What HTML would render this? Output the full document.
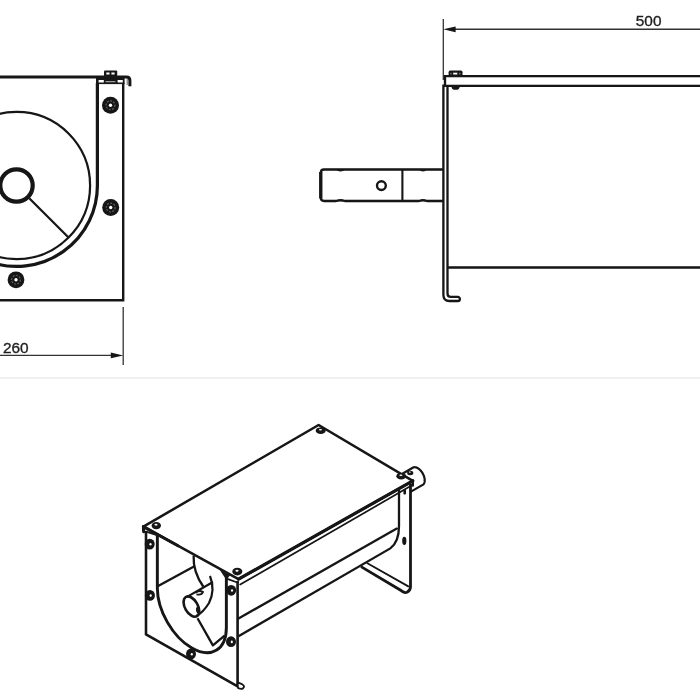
<!DOCTYPE html>
<html><head><meta charset="utf-8"><style>
html,body{margin:0;padding:0;background:#fff;}
svg{display:block;}
</style></head><body>
<svg width="700" height="700" viewBox="0 0 700 700">
<defs><filter id="bl" x="-5%" y="-5%" width="110%" height="110%"><feGaussianBlur stdDeviation="0.45"/></filter></defs>
<rect width="700" height="700" fill="#fff"/>
<g filter="url(#bl)">
<line x1="0" y1="378" x2="700" y2="378" stroke="#f0f0f0" stroke-width="2"/>
<path d="M-5,76.9 H126.5 Q129.9,76.9 129.9,80.5 V86.2" fill="none" stroke="#141414" stroke-width="3"/>
<line x1="127.2" y1="79" x2="127.2" y2="85" stroke="#666" stroke-width="1"/>
<rect x="104" y="70.4" width="13.2" height="6.2" rx="1" fill="#141414"/>
<rect x="106.3" y="72.5" width="3.2" height="2" fill="#fff"/>
<rect x="111.4" y="72.5" width="3.2" height="2" fill="#fff"/>
<rect x="96" y="77" width="28.6" height="7.1" fill="#141414"/>
<rect x="98.6" y="80" width="5.2" height="2.5" fill="#fff"/>
<rect x="117.6" y="80" width="5.2" height="2.5" fill="#fff"/>
<rect x="105.5" y="81" width="10" height="1.3" fill="#999"/>
<path d="M97.4,83 V185.5 A80.9,80.9 0 0 1 -10,261.94" fill="none" stroke="#141414" stroke-width="3.2"/>
<path d="M123.2,83 V300.2 H-5" fill="none" stroke="#141414" stroke-width="2.4"/>
<circle cx="16.5" cy="185.5" r="73.6" fill="none" stroke="#141414" stroke-width="2.2"/>
<circle cx="16.5" cy="185.5" r="16.2" fill="none" stroke="#141414" stroke-width="4.2"/>
<line x1="29.23" y1="198.23" x2="68.54" y2="237.54" stroke="#141414" stroke-width="2.2"/>
<circle cx="110.5" cy="105.2" r="8.5" fill="#141414"/><circle cx="110.5" cy="105.2" r="4.42" fill="none" stroke="#5a5a5a" stroke-width="1.3" stroke-dasharray="2 1.3"/><circle cx="110.5" cy="105.2" r="1.7" fill="#fff"/>
<circle cx="110.7" cy="207.5" r="8.5" fill="#141414"/><circle cx="110.7" cy="207.5" r="4.42" fill="none" stroke="#5a5a5a" stroke-width="1.3" stroke-dasharray="2 1.3"/><circle cx="110.7" cy="207.5" r="1.7" fill="#fff"/>
<circle cx="16" cy="279.8" r="8.4" fill="#141414"/><circle cx="16" cy="279.8" r="4.37" fill="none" stroke="#5a5a5a" stroke-width="1.3" stroke-dasharray="2 1.3"/><circle cx="16" cy="279.8" r="1.7" fill="#fff"/>
<line x1="123.2" y1="307" x2="123.2" y2="365" stroke="#333" stroke-width="1.3"/>
<line x1="-5" y1="355.4" x2="112" y2="355.4" stroke="#333" stroke-width="1.4"/>
<polygon points="110.8,352.5 123.2,355.4 110.8,358.3" fill="#141414"/>
<text x="2.9" y="352.9" font-family="Liberation Sans, sans-serif" font-size="15.4" fill="#1e1e1e" stroke="#1e1e1e" stroke-width="0.35">260</text>
<line x1="443.3" y1="19" x2="443.3" y2="80" stroke="#333" stroke-width="1.3"/>
<line x1="454" y1="29.3" x2="705" y2="29.3" stroke="#333" stroke-width="1.4"/>
<polygon points="443.3,29.3 455.6,26.4 455.6,32.2" fill="#141414"/>
<text x="635.8" y="26.4" font-family="Liberation Sans, sans-serif" font-size="15.4" fill="#1e1e1e" stroke="#1e1e1e" stroke-width="0.35">500</text>
<path d="M705,76.2 H445 V85.9 H705" fill="none" stroke="#141414" stroke-width="2.3"/>
<rect x="448.6" y="70.6" width="13.9" height="6" rx="1.6" fill="#141414"/>
<rect x="453.2" y="72.7" width="4.1" height="1.8" fill="#fff"/>
<rect x="450.3" y="72.8" width="1.4" height="1.6" fill="#777"/>
<rect x="459" y="72.8" width="1.5" height="1.6" fill="#777"/>
<path d="M451.4,85.9 Q451.4,89.8 455.6,89.8 Q459.8,89.8 459.8,85.9 Z" fill="#141414"/>
<path d="M443.4,84.5 V295 Q443.4,301 449.4,301 H457.8 A2.05,2.05 0 0 0 457.8,296.9 H451 Q447.5,296.9 447.5,293.4 V86" fill="none" stroke="#141414" stroke-width="2.3"/>
<line x1="447.5" y1="267.5" x2="705" y2="267.5" stroke="#141414" stroke-width="2.5"/>
<path d="M443,169.5 H336 Q340.5,171 345,169.5 H419 Q423,171 427,169.5 H443 M443,201 H427 Q423,199.5 419,201 H345 Q340.5,199.5 336,201 H324 Q320.8,201 320.8,197.8 V172.7 Q320.8,169.5 324,169.5 H336" fill="none" stroke="#141414" stroke-width="2.3"/>
<line x1="320.8" y1="172" x2="320.8" y2="198.5" stroke="#141414" stroke-width="3.3"/>
<line x1="402.4" y1="169.5" x2="402.4" y2="201" stroke="#141414" stroke-width="2.1"/>
<circle cx="381.4" cy="185.6" r="4.4" fill="none" stroke="#141414" stroke-width="2.4"/>
<path d="M393.72,478.69 L412.77,467.69 L412.74,467.71 L413.19,467.48 L413.68,467.33 L414.2,467.24 L414.74,467.22 L415.3,467.27 L415.89,467.39 L416.48,467.58 L417.09,467.83 L417.7,468.15 L418.31,468.53 L418.92,468.97 L419.51,469.46 L420.1,470.01 L420.66,470.61 L421.2,471.24 L421.72,471.92 L422.21,472.63 L422.66,473.37 L423.07,474.13 L423.44,474.9 L423.77,475.69 L424.05,476.48 L424.29,477.27 L424.47,478.06 L424.6,478.83 L424.68,479.58 L424.71,480.3 L424.68,481 L424.6,481.66 L424.47,482.28 L424.29,482.85 L424.05,483.37 L423.77,483.84 L423.44,484.25 L423.07,484.61 L422.66,484.89 L422.63,484.91 L403.57,495.91 Z" fill="#fff" stroke="none"/>
<path d="M393.72,478.69 L412.77,467.69 L412.74,467.71 L413.19,467.48 L413.68,467.33 L414.2,467.24 L414.74,467.22 L415.3,467.27 L415.89,467.39 L416.48,467.58 L417.09,467.83 L417.7,468.15 L418.31,468.53 L418.92,468.97 L419.51,469.46 L420.1,470.01 L420.66,470.61 L421.2,471.24 L421.72,471.92 L422.21,472.63 L422.66,473.37 L423.07,474.13 L423.44,474.9 L423.77,475.69 L424.05,476.48 L424.29,477.27 L424.47,478.06 L424.6,478.83 L424.68,479.58 L424.71,480.3 L424.68,481 L424.6,481.66 L424.47,482.28 L424.29,482.85 L424.05,483.37 L423.77,483.84 L423.44,484.25 L423.07,484.61 L422.66,484.89 L422.63,484.91 L403.57,495.91" fill="none" stroke="#141414" stroke-width="2.2" stroke-linejoin="round"/>
<polygon points="396,484 410.4,484 410.4,588 406,592.5 361,566.5 390.3,548.4 399,526" fill="#fff"/>
<line x1="238.5" y1="618.5" x2="396.8" y2="528.6" stroke="#141414" stroke-width="2.3" stroke-linecap="round"/>
<path d="M399,490 V526 Q399,542 390.3,548.4 L238.5,636.2" fill="none" stroke="#141414" stroke-width="2.3"/>
<path d="M410.5,484 V586.5 Q410.5,590.5 407,592.3 Q404.5,593.3 401.5,590.8 L361,566.6" fill="none" stroke="#141414" stroke-width="2.8" stroke-linejoin="round"/>
<line x1="367.4" y1="563.2" x2="408.3" y2="586.4" stroke="#141414" stroke-width="1.8" stroke-linecap="round"/>
<ellipse cx="404.3" cy="540.9" rx="2.1" ry="4.1" fill="#141414"/>
<rect x="403.4" y="489" width="2.6" height="5.6" rx="1" fill="#141414"/>
<polygon points="143.4,526.6 318.6,425 412.8,480.8 238.5,579.2" fill="#fff" stroke="#141414" stroke-width="2.5" stroke-linejoin="round"/>
<line x1="238.5" y1="579.2" x2="412.8" y2="480.8" stroke="#141414" stroke-width="3.2" stroke-linecap="round"/>
<line x1="240.2" y1="584.6" x2="411.5" y2="485.6" stroke="#141414" stroke-width="1.7" stroke-linecap="round"/>
<line x1="412.8" y1="480.8" x2="412.8" y2="485.5" stroke="#141414" stroke-width="2.4" stroke-linecap="round"/>
<line x1="143.4" y1="526.6" x2="178" y2="545.8" stroke="#141414" stroke-width="3.0" stroke-linecap="round"/>
<line x1="143.4" y1="526.6" x2="143.6" y2="531.8" stroke="#141414" stroke-width="3.0" stroke-linecap="round"/>
<ellipse cx="156.3" cy="525.6" rx="4.7" ry="3.6" fill="#141414"/><ellipse cx="156" cy="524.7" rx="1.5" ry="0.86" fill="#fff"/>
<ellipse cx="320.7" cy="430.7" rx="5" ry="3.3" fill="#141414"/><ellipse cx="320.4" cy="429.8" rx="1.6" ry="0.79" fill="#fff"/>
<ellipse cx="237.3" cy="571.6" rx="5" ry="3.9" fill="#141414"/><ellipse cx="237" cy="570.7" rx="1.6" ry="0.94" fill="#fff"/>
<ellipse cx="401.2" cy="476.2" rx="4.9" ry="3.3" fill="#141414"/><ellipse cx="400.9" cy="475.3" rx="1.57" ry="0.79" fill="#fff"/>
<ellipse cx="410.2" cy="473" rx="3.1" ry="2.2" fill="#141414"/><ellipse cx="409.9" cy="472.1" rx="0.99" ry="0.53" fill="#fff"/>
<path d="M146,531 V634.4 L237.6,686.3 V581" fill="none" stroke="#141414" stroke-width="2.6" stroke-linejoin="round"/>
<path d="M237.6,682.3 L242,684.2 Q245.5,686.3 243,688.4 Q241,689.5 238,688 Z" fill="#fff" stroke="#141414" stroke-width="1.8" stroke-linejoin="round"/>
<g transform="matrix(0.43,0.2456,0,0.5,184.0,510.7)"><path d="M98.5,80 V185.5 A80.25,80.25 0 0 1 -62,185.5 V77" fill="none" stroke="#141414" stroke-width="2.9" vector-effect="non-scaling-stroke"/></g>
<polygon points="219.5,569.5 226.4,580 230,575.3" fill="#141414"/>
<line x1="227.3" y1="578.8" x2="237.3" y2="582.5" stroke="#141414" stroke-width="1.8" stroke-linecap="round"/>
<line x1="146" y1="531.6" x2="157" y2="535.2" stroke="#141414" stroke-width="1.8" stroke-linecap="round"/>
<ellipse cx="149.7" cy="544.1" rx="5" ry="5.4" fill="#141414"/><ellipse cx="150.5" cy="544.3" rx="1.1" ry="1.3" fill="#fff"/>
<ellipse cx="149.9" cy="595.4" rx="5" ry="5.4" fill="#141414"/><ellipse cx="150.7" cy="595.6" rx="1.1" ry="1.3" fill="#fff"/>
<ellipse cx="191" cy="654" rx="5" ry="5.4" fill="#141414"/><ellipse cx="191.8" cy="654.2" rx="1.1" ry="1.3" fill="#fff"/>
<ellipse cx="231" cy="641.7" rx="5" ry="5.4" fill="#141414"/><ellipse cx="231.8" cy="641.9" rx="1.1" ry="1.3" fill="#fff"/>
<ellipse cx="231.2" cy="590.3" rx="5" ry="5.4" fill="#141414"/><ellipse cx="232" cy="590.5" rx="1.1" ry="1.3" fill="#fff"/>
<line x1="158.6" y1="585.8" x2="193.5" y2="566.7" stroke="#141414" stroke-width="2.3" stroke-linecap="round"/>
<path d="M193.6,555.8 Q193,572 203.2,586.5" fill="none" stroke="#141414" stroke-width="2.3"/>
<line x1="187.9" y1="596.4" x2="212.1" y2="582.5" stroke="#141414" stroke-width="2.2" stroke-linecap="round"/>
<path d="M210,576 Q215.5,590 209,603 Q203,612.5 196.4,616" fill="none" stroke="#141414" stroke-width="2.2"/>
<g transform="translate(191.4,606.6) matrix(0.43,0.2456,0,0.5,0,0)"><circle cx="0" cy="0" r="18.2" fill="none" stroke="#141414" stroke-width="2.6" vector-effect="non-scaling-stroke"/></g>
<path d="M197.5,618.2 L212.9,645.4 L224.6,635.7" fill="none" stroke="#141414" stroke-width="2.3" stroke-linejoin="round"/>
<path d="M195.3,592.8 Q199,589.8 203,592 Q201.5,595.5 196.5,594.3" fill="none" stroke="#141414" stroke-width="1.9"/>
<path d="M197.8,607 Q195.8,610 198.2,613" fill="none" stroke="#141414" stroke-width="1.9"/>
</g>
</svg>
</body></html>
